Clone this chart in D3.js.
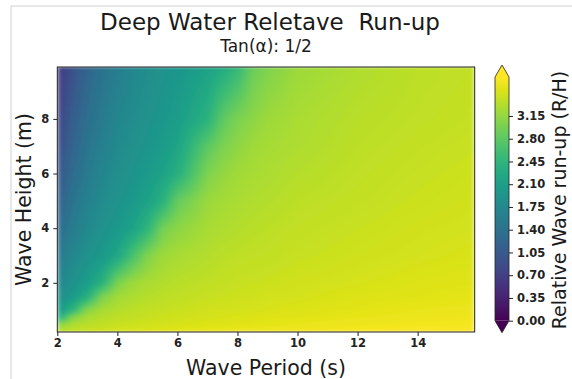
<!DOCTYPE html>
<html><head><meta charset="utf-8">
<script src="https://cdn.jsdelivr.net/npm/d3@7"></script>
<style>body{margin:0;background:#fff;} text{font-family:"DejaVu Sans",sans-serif;}</style>
</head><body><svg id="c" width="572" height="379"></svg>
<script>
// Wave periods (s) – grid columns
const periods = [2, 2.5, 3, 3.5, 4, 4.5, 5, 5.5, 6, 7, 7.5, 8, 8.5, 9, 10, 12, 14, 15.9];
// Wave heights (m) – grid rows
const heights = [0.2, 0.35, 0.5, 0.75, 1, 1.5, 2, 3, 4, 5, 6, 7, 8, 9.9];
// Relative run-up R/H, one row per height, one value per period
const runup = [
  [3.37,3.42,3.47,3.50,3.52,3.55,3.57,3.59,3.61,3.64,3.65,3.66,3.67,3.68,3.69,3.71,3.73,3.74],
  [3.24,3.35,3.40,3.44,3.47,3.49,3.51,3.53,3.55,3.58,3.59,3.61,3.62,3.63,3.65,3.68,3.70,3.71],
  [3.00,3.27,3.35,3.39,3.43,3.45,3.48,3.49,3.51,3.55,3.56,3.57,3.58,3.59,3.62,3.65,3.68,3.69],
  [2.22,3.03,3.26,3.32,3.38,3.40,3.43,3.45,3.47,3.50,3.52,3.53,3.55,3.56,3.57,3.61,3.64,3.66],
  [2.00,2.43,3.10,3.26,3.32,3.37,3.40,3.42,3.44,3.48,3.49,3.50,3.51,3.52,3.55,3.58,3.62,3.64],
  [1.85,2.03,2.35,3.02,3.22,3.28,3.33,3.37,3.39,3.43,3.44,3.46,3.47,3.49,3.50,3.55,3.57,3.60],
  [1.72,1.91,2.08,2.39,3.00,3.20,3.27,3.31,3.35,3.39,3.41,3.43,3.44,3.45,3.48,3.51,3.55,3.57],
  [1.48,1.74,1.90,2.01,2.22,2.65,3.03,3.20,3.26,3.32,3.36,3.38,3.39,3.40,3.43,3.47,3.50,3.53],
  [1.30,1.56,1.77,1.91,2.00,2.16,2.43,2.95,3.10,3.26,3.29,3.32,3.35,3.37,3.40,3.44,3.48,3.50],
  [1.13,1.44,1.65,1.81,1.92,2.01,2.15,2.37,2.86,3.18,3.24,3.27,3.30,3.32,3.37,3.41,3.45,3.48],
  [0.99,1.32,1.54,1.72,1.85,1.94,2.03,2.16,2.35,3.02,3.14,3.22,3.26,3.28,3.33,3.39,3.43,3.46],
  [0.84,1.21,1.46,1.63,1.78,1.88,1.96,2.05,2.18,2.80,3.00,3.11,3.21,3.25,3.29,3.37,3.41,3.44],
  [0.74,1.11,1.37,1.55,1.72,1.82,1.91,1.98,2.08,2.39,2.81,3.00,3.10,3.20,3.27,3.35,3.39,3.42],
  [0.58,0.93,1.22,1.43,1.58,1.73,1.82,1.91,1.96,2.14,2.29,2.49,2.89,3.02,3.20,3.30,3.37,3.40]
];
const xTicks = [2, 4, 6, 8, 10, 12, 14];
const yTicks = [2, 4, 6, 8];
const cbTicks = [0, 0.35, 0.70, 1.05, 1.40, 1.75, 2.10, 2.45, 2.80, 3.15];
const cbDomain = [0, 3.75];
const titleText = "Deep Water Reletave  Run-up";
const subtitleText = "Tan(α): 1/2";
const xLabel = "Wave Period (s)";
const yLabel = "Wave Height (m)";
const cbLabel = "Relative Wave run-up (R/H)";

const svg = d3.select("#c");
const P = {l: 57.3, r: 474.7, t: 67, b: 332};
const x = d3.scaleLinear().domain([2, 15.9]).range([P.l, P.r]);
const y = d3.scaleLinear().domain([0.2, 9.9]).range([P.b, P.t]);
const color = d3.scaleSequential(d3.interpolateViridis).domain(cbDomain);

// screenshot frame
svg.append("line").attr("x1", 11).attr("x2", 11).attr("y1", 6).attr("y2", 379).attr("stroke", "#d0d0d0").attr("stroke-width", 1);
svg.append("line").attr("x1", 11).attr("x2", 572).attr("y1", 6).attr("y2", 6).attr("stroke", "#d0d0d0").attr("stroke-width", 1);

const defs = svg.append("defs");
defs.append("clipPath").attr("id", "plotclip").append("rect")
  .attr("x", P.l).attr("y", P.t).attr("width", P.r - P.l).attr("height", P.b - P.t);
const blur = defs.append("filter").attr("id", "smooth")
  .attr("x", "-5%").attr("y", "-5%").attr("width", "110%").attr("height", "110%");
blur.append("feGaussianBlur").attr("stdDeviation", "2.5 1.5").attr("edgeMode", "duplicate");

// smooth (bilinear) shading of the grid, like imshow/contourf with fine levels
function locate(arr, v) {
  let i = d3.bisectRight(arr, v) - 1;
  i = Math.max(0, Math.min(arr.length - 2, i));
  let f = (v - arr[i]) / (arr[i + 1] - arr[i]);
  return [i, Math.max(0, Math.min(1, f))];
}
const W = Math.round(P.r - P.l), H = Math.round(P.b - P.t);
const cv = document.createElement("canvas");
cv.width = W; cv.height = H;
const ctx = cv.getContext("2d");
const img = ctx.createImageData(W, H);
for (let py = 0; py < H; py++) {
  const [j, fy] = locate(heights, y.invert(P.t + (py + 0.5) * (P.b - P.t) / H));
  for (let px = 0; px < W; px++) {
    const [i, fx] = locate(periods, x.invert(P.l + (px + 0.5) * (P.r - P.l) / W));
    const v = (1 - fy) * ((1 - fx) * runup[j][i] + fx * runup[j][i + 1]) +
              fy * ((1 - fx) * runup[j + 1][i] + fx * runup[j + 1][i + 1]);
    const c = d3.rgb(color(v));
    const k = (py * W + px) * 4;
    img.data[k] = c.r; img.data[k + 1] = c.g; img.data[k + 2] = c.b; img.data[k + 3] = 255;
  }
}
ctx.putImageData(img, 0, 0);
svg.append("g").attr("clip-path", "url(#plotclip)")
  .append("image").attr("href", cv.toDataURL())
  .attr("x", P.l).attr("y", P.t).attr("width", P.r - P.l).attr("height", P.b - P.t)
  .attr("preserveAspectRatio", "none").attr("filter", "url(#smooth)");

// axes
const xAxis = svg.append("g").attr("transform", `translate(0,${P.b})`)
  .call(d3.axisBottom(x).tickValues(xTicks).tickSize(4).tickPadding(3).tickFormat(d3.format("d")));
const yAxis = svg.append("g").attr("transform", `translate(${P.l},0)`)
  .call(d3.axisLeft(y).tickValues(yTicks).tickSize(4).tickPadding(4).tickFormat(d3.format("d")));
[xAxis, yAxis].forEach(a => {
  a.select(".domain").remove();
  a.selectAll("text").attr("font-size", 11.5).attr("font-family", "DejaVu Sans").attr("fill", "#222").attr("font-weight", "bold");
  a.selectAll("line").attr("stroke", "#222").attr("stroke-width", 1);
});
svg.append("rect").attr("x", P.l).attr("y", P.t).attr("width", P.r - P.l).attr("height", P.b - P.t)
  .attr("fill", "none").attr("stroke", "#222").attr("stroke-width", 1);

// colorbar
const CB = {x0: 495, x1: 509, top: 77, bot: 320.7, ext: 12};
const cy = d3.scaleLinear().domain(cbDomain).range([CB.bot, CB.top]);
const grad = defs.append("linearGradient").attr("id", "cbgrad").attr("x1", 0).attr("x2", 0).attr("y1", 1).attr("y2", 0);
d3.range(0, 1.0001, 0.05).forEach(f => grad.append("stop").attr("offset", f).attr("stop-color", color(cbDomain[0] + f * (cbDomain[1] - cbDomain[0]))));
svg.append("rect").attr("x", CB.x0).attr("y", CB.top).attr("width", CB.x1 - CB.x0).attr("height", CB.bot - CB.top).attr("fill", "url(#cbgrad)");
const mid = (CB.x0 + CB.x1) / 2;
svg.append("path").attr("d", `M${CB.x0},${CB.top}L${mid},${CB.top - CB.ext}L${CB.x1},${CB.top}Z`).attr("fill", color(cbDomain[1]));
svg.append("path").attr("d", `M${CB.x0},${CB.bot}L${mid},${CB.bot + CB.ext}L${CB.x1},${CB.bot}Z`).attr("fill", color(cbDomain[0]));
svg.append("path").attr("d", `M${CB.x0},${CB.top}L${mid},${CB.top - CB.ext}L${CB.x1},${CB.top}L${CB.x1},${CB.bot}L${mid},${CB.bot + CB.ext}L${CB.x0},${CB.bot}Z`)
  .attr("fill", "none").attr("stroke", "#222").attr("stroke-width", 0.8);
const cbAxis = svg.append("g").attr("transform", `translate(${CB.x1},0)`)
  .call(d3.axisRight(cy).tickValues(cbTicks).tickSize(4).tickPadding(4).tickFormat(d3.format(".2f")));
cbAxis.select(".domain").remove();
cbAxis.selectAll("text").attr("font-size", 11.5).attr("font-family", "DejaVu Sans").attr("fill", "#222").attr("font-weight", "bold");
cbAxis.selectAll("line").attr("stroke", "#222");

// texts
svg.append("text").attr("x", 270).attr("y", 30).attr("text-anchor", "middle").attr("font-size", 23)
  .attr("xml:space", "preserve").style("white-space", "pre").attr("fill", "#1a1a1a").text(titleText);
svg.append("text").attr("x", (P.l + P.r) / 2).attr("y", 52).attr("text-anchor", "middle").attr("font-size", 17).attr("fill", "#1a1a1a").text(subtitleText);
svg.append("text").attr("x", (P.l + P.r) / 2).attr("y", 375).attr("text-anchor", "middle").attr("font-size", 20.5).attr("fill", "#1a1a1a").text(xLabel);
svg.append("text").attr("transform", `translate(31,${(P.t + P.b) / 2}) rotate(-90)`).attr("text-anchor", "middle").attr("font-size", 20.5).attr("fill", "#1a1a1a").text(yLabel);
svg.append("text").attr("transform", `translate(566,200) rotate(-90)`).attr("text-anchor", "middle").attr("font-size", 19).attr("fill", "#1a1a1a").text(cbLabel);
</script></body></html>
